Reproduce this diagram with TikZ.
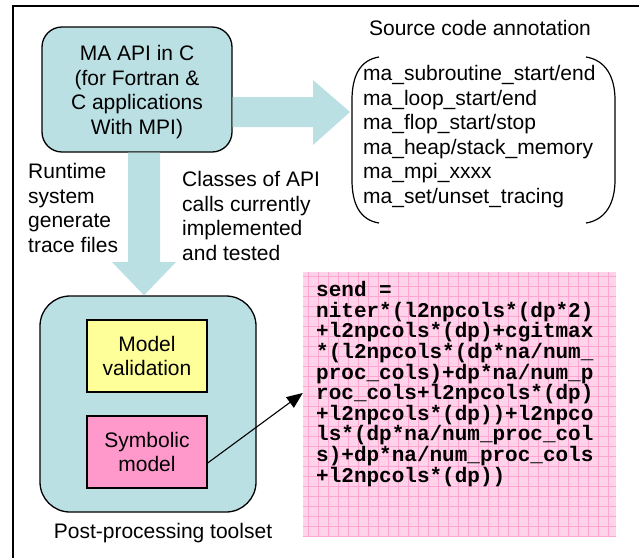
\documentclass[tikz,border=0pt]{standalone}
\usepackage{fontspec}
\setmainfont{Liberation Sans}
\newfontfamily\codefont{Liberation Mono}
\usetikzlibrary{arrows.meta,calc}
\definecolor{tealfill}{HTML}{BBE0E3}
\definecolor{yellowfill}{HTML}{FFFF99}
\definecolor{pinkfill}{HTML}{FF99CC}
\definecolor{codebg}{HTML}{FFD3EA}
\definecolor{codegrid}{HTML}{FFA6D2}
\tikzset{
  txt/.style={font=\fontsize{21}{24.5}\selectfont, inner sep=0pt},
  roundbox/.style={draw, line width=1.3pt, fill=tealfill, align=center},
  innerbox/.style={draw, line width=1.3pt, align=center,
    minimum width=120, minimum height=72, txt},
  blockarrow/.style={fill=tealfill, draw=none},
}
\begin{document}
\begin{tikzpicture}[x=1pt,y=-1pt]
\useasboundingbox (0,0) rectangle (639,558);
% frame
\draw[line width=1.6pt] (13,558) -- (13,6) -- (639,6);

% API box
\node[roundbox, rounded corners=20, minimum width=190, minimum height=125]
  (api) at (137,89.5) {};
\node[txt, anchor=base, align=center] (apitext) at (137,134)
  {MA API in C\\(for Fortran \&\\C applications\\With MPI)};

% post-processing toolset
\node[roundbox, rounded corners=30, minimum width=216, minimum height=216]
  (tools) at (148,404) {};
\node[innerbox, fill=yellowfill] (valid) at (147,356) {Model\\validation};
\node[innerbox, fill=pinkfill] (sym) at (147,452) {Symbolic\\model};
\node[txt, anchor=base] (toolslabel) at (163,538) {Post-processing toolset};

% block arrows
\fill[blockarrow] (api.east |- 0,97) -- (313,97) -- (313,80) -- (350,112)
  -- (313,145) -- (313,127) -- (api.east |- 0,127) -- cycle;
\fill[blockarrow] (128,0 |- api.south) -- (160,0 |- api.south) -- (160,262)
  -- (176,262) -- (144,0 |- tools.north) -- (112,262) -- (128,262) -- cycle;

% labels beside the arrows (multi-line nodes sit on their last baseline)
\node[txt, anchor=base west, align=left] (runtime) at (28,252)
  {Runtime\\system\\generate\\trace files};
\node[txt, anchor=base west, align=left] (classes) at (182,260)
  {Classes of API\\calls currently\\implemented\\and tested};

% source code annotation
\node[txt, anchor=base] (annot) at (480,35) {Source code annotation};
\node[txt, anchor=base west, align=left] (calls) at (363,203)
  {ma\_subroutine\_start/end\\ma\_loop\_start/end\\ma\_flop\_start/stop\\%
   ma\_heap/stack\_memory\\ma\_mpi\_xxxx\\ma\_set/unset\_tracing};
\draw[line width=1.2pt] (379,57) .. controls (360,60) and (352,76) .. (352,100)
  -- (352,180) .. controls (352,204) and (360,220) .. (379,223);
\draw[line width=1.2pt] (586,57) .. controls (605,60) and (615,76) .. (615,100)
  -- (615,180) .. controls (615,204) and (605,220) .. (586,223);

% symbolic expression on grid paper
\node[fill=codebg, minimum width=313, minimum height=265, inner sep=0pt]
  (code) at (459.5,404.5) {};
\begin{scope}
  \clip (code.north west) rectangle (code.south east);
  \foreach \gx in {308,318,...,618} \draw[codegrid, line width=0.8pt] (\gx,272) -- (\gx,537);
  \foreach \gy in {276,286,...,536} \draw[codegrid, line width=0.8pt] (303,\gy) -- (616,\gy);
\end{scope}
\node[anchor=base west, align=left, inner sep=0pt,
  font=\codefont\bfseries\fontsize{21}{20.6}\selectfont] (expr) at (316,482)
  {send =\\niter*(l2npcols*(dp*2)\\+l2npcols*(dp)+cgitmax\\*(l2npcols*(dp*na/num\_\\%
   proc\_cols)+dp*na/num\_p\\roc\_cols+l2npcols*(dp)\\+l2npcols*(dp))+l2npco\\%
   ls*(dp*na/num\_proc\_col\\s)+dp*na/num\_proc\_cols\\+l2npcols*(dp))};

% link from the symbolic model to its expression
\draw[line width=1.1pt, -{Triangle[length=16,width=13]}]
  ($(sym.east)+(0,11)$) -- ($(code.west)+(0,-11.5)$);
\end{tikzpicture}
\end{document}
